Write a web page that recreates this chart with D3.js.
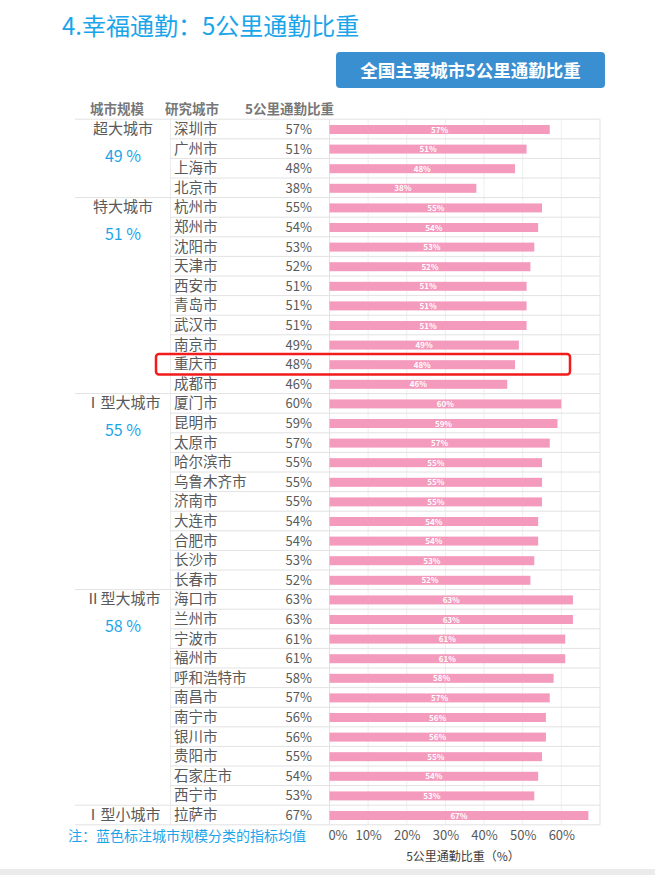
<!DOCTYPE html>
<html><head><meta charset="utf-8">
<script src="https://cdn.jsdelivr.net/npm/d3@7"></script>
<style>
html,body{margin:0;padding:0;background:#fff;}
svg{display:block;font-family:"Noto Sans CJK SC","Noto Sans",sans-serif;}
</style></head>
<body><svg id="c" width="655" height="875"></svg>
<script>
const cities = ["深圳市","广州市","上海市","北京市","杭州市","郑州市","沈阳市","天津市","西安市","青岛市","武汉市","南京市","重庆市","成都市","厦门市","昆明市","太原市","哈尔滨市","乌鲁木齐市","济南市","大连市","合肥市","长沙市","长春市","海口市","兰州市","宁波市","福州市","呼和浩特市","南昌市","南宁市","银川市","贵阳市","石家庄市","西宁市","拉萨市"];
const values = [57,51,48,38,55,54,53,52,51,51,51,49,48,46,60,59,57,55,55,55,54,54,53,52,63,63,61,61,58,57,56,56,55,54,53,67];
const groupNames = ["超大城市","特大城市","Ⅰ型大城市","Ⅱ型大城市","Ⅰ型小城市"];
const groupSizes = [4,10,10,11,1];
const groupAvgs = ["49 %","51 %","55 %","58 %",""];
const xTicks = [0,10,20,30,40,50,60];
const highlightCity = "重庆市";

const svg = d3.select("#c");
const top0 = 119.2, rowH = 19.6;
const y = d3.scaleBand().domain(cities).range([top0, top0 + rowH*cities.length]).paddingInner(0).paddingOuter(0);
const x = d3.scaleLinear().domain([0,70]).range([329.5,600]);
const gridCol = "#e2e2e2", textCol = "#595959", blue = "#1aa5ea";

// title
svg.append("text").attr("x",62).attr("y",35).attr("font-size",24).attr("fill",blue).text("4.幸福通勤：5公里通勤比重");
// button
svg.append("rect").attr("x",336).attr("y",52).attr("width",269).attr("height",36).attr("rx",4).attr("fill","#3a8fd1");
svg.append("text").attr("x",470.5).attr("y",77).attr("text-anchor","middle").attr("font-size",17.5).attr("font-weight","bold").attr("fill","#fff").text("全国主要城市5公里通勤比重");

// headers
const hdr = [["城市规模",90],["研究城市",165],["5公里通勤比重",245]];
svg.selectAll(".hdr").data(hdr).join("text").attr("x",d=>d[1]).attr("y",114).attr("font-size",13.5).attr("font-weight","bold").attr("fill","#777").text(d=>d[0]);

// vertical grid
svg.selectAll(".vg").data(xTicks.slice(1)).join("line")
  .attr("x1",d=>x(d)).attr("x2",d=>x(d)).attr("y1",top0).attr("y2",y.range()[1])
  .attr("stroke","#efefef").attr("stroke-width",1);
svg.append("line").attr("x1",x(70)).attr("x2",x(70)).attr("y1",top0).attr("y2",y.range()[1]).attr("stroke",gridCol);
svg.append("line").attr("x1",x(0)).attr("x2",x(0)).attr("y1",top0).attr("y2",y.range()[1]).attr("stroke",gridCol);
svg.append("line").attr("x1",170.5).attr("x2",170.5).attr("y1",top0).attr("y2",y.range()[1]).attr("stroke","#ececec");

// horizontal lines
const groupStarts = [];
let acc = 0;
groupSizes.forEach(s=>{groupStarts.push(acc); acc+=s;});
const lineData = d3.range(cities.length+1).map(i=>({i, isGroup: i===cities.length || groupStarts.includes(i)}));
svg.selectAll(".hl").data(lineData).join("line")
  .attr("x1",d=>d.isGroup?75:170).attr("x2",600)
  .attr("y1",d=>top0+d.i*rowH).attr("y2",d=>top0+d.i*rowH)
  .attr("stroke",gridCol).attr("stroke-width",1);

// bars
const bh = 9;
svg.selectAll(".bar").data(cities).join("rect")
  .attr("x",x(0)).attr("y",d=>y(d)+y.bandwidth()/2-bh/2+0.5)
  .attr("width",(d,i)=>x(values[i])-x(0)).attr("height",bh).attr("fill","#f49abd");
svg.selectAll(".bl").data(cities).join("text")
  .attr("x",(d,i)=>(x(0)+x(values[i]))/2).attr("y",d=>y(d)+y.bandwidth()/2+3.5)
  .attr("text-anchor","middle").attr("font-size",8).attr("font-weight","bold").attr("fill","#fff")
  .text((d,i)=>values[i]+"%");

// city names & values
svg.selectAll(".cn").data(cities).join("text")
  .attr("x",174).attr("y",d=>y(d)+y.bandwidth()/2+5).attr("font-size",14.5).attr("fill",textCol).text(d=>d);
svg.selectAll(".cv").data(cities).join("text")
  .attr("x",312).attr("y",d=>y(d)+y.bandwidth()/2+5).attr("text-anchor","end").attr("font-size",13).attr("fill",textCol)
  .text((d,i)=>values[i]+"%");

// group labels
groupNames.forEach((g,k)=>{
  const c = cities[groupStarts[k]];
  svg.append("text").attr("x",123).attr("y",y(c)+y.bandwidth()/2+5).attr("text-anchor","middle").attr("font-size",15).attr("fill",textCol).text(g);
  if (groupAvgs[k]) svg.append("text").attr("x",123).attr("y",y(c)+y.bandwidth()/2+33).attr("text-anchor","middle").attr("font-size",16).attr("fill",blue).text(groupAvgs[k]);
});

// highlight
svg.append("rect").attr("x",156).attr("y",y(highlightCity)-0.5).attr("width",414).attr("height",20.5).attr("rx",3)
  .attr("fill","none").attr("stroke","#f21c1c").attr("stroke-width",2.5);

// axis
const ax = svg.append("g").attr("transform",`translate(0,${y.range()[1]})`)
  .call(d3.axisBottom(x).tickValues(xTicks).tickFormat(d=>d+"%").tickSize(0).tickPadding(6));
ax.select(".domain").remove();
ax.selectAll("text").attr("font-size",13).attr("fill",textCol).attr("font-family","'Noto Sans CJK SC',sans-serif")
  .attr("dx",(d)=>d===0?8:0);
svg.append("text").attr("x",463).attr("y",861).attr("text-anchor","middle").attr("font-size",12).attr("fill","#404040").text("5公里通勤比重（%）");

// note
svg.append("text").attr("x",68).attr("y",841).attr("font-size",14).attr("fill",blue).text("注：蓝色标注城市规模分类的指标均值");

// bottom strip
svg.append("rect").attr("x",0).attr("y",869).attr("width",655).attr("height",6).attr("fill","#ebebeb");
</script></body></html>
